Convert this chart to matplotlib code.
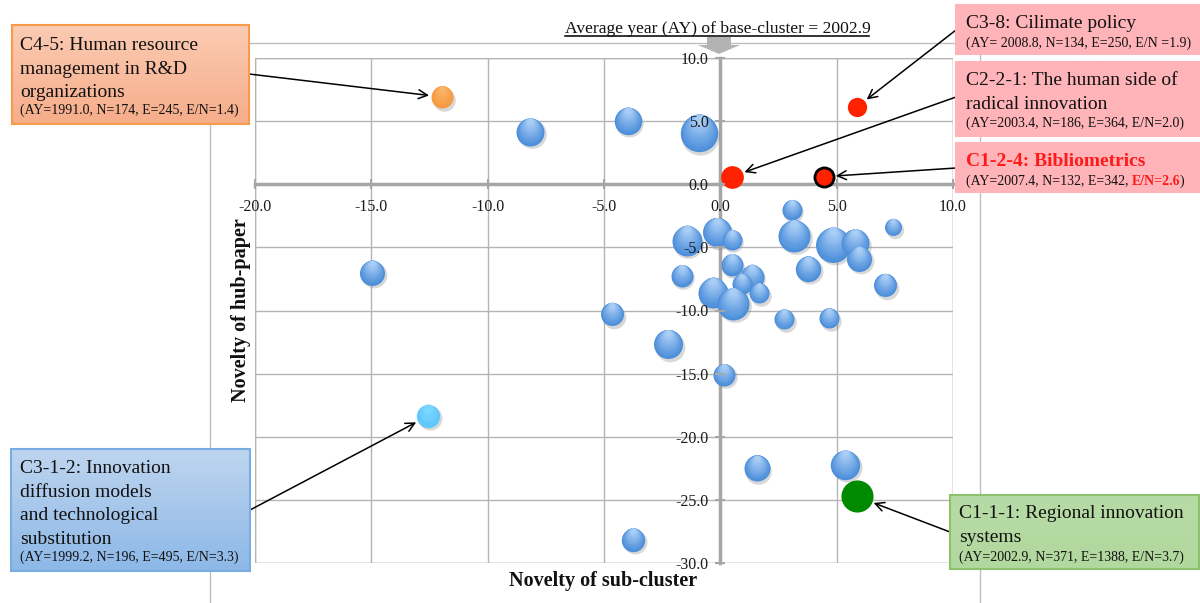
import matplotlib.pyplot as plt
import numpy as np
from matplotlib.patches import Rectangle, Polygon
from matplotlib.lines import Line2D
from matplotlib.colors import LinearSegmentedColormap, to_rgb
from matplotlib.ticker import FormatStrFormatter

plt.rcParams['font.family'] = ['Liberation Serif', 'DejaVu Serif']

W, H = 1200, 603

# ---- data: ordinary sub-clusters (blue bubbles), size = N
blue_x = [-8.18, -3.97, -0.92, 3.07, 7.43, -1.44, -0.13, 0.49, 3.17, 4.86,
          5.79, 5.97, 0.49, -1.66, 3.78, 1.35, 0.92, 1.68, -0.33, 0.56,
          7.08, -4.64, 2.75, 4.68, -2.23, 0.16, -14.96, 1.56, 5.36, -3.74]
blue_y = [4.14, 5.01, 4.05, -2.03, -3.40, -4.47, -3.80, -4.41, -4.09, -4.80,
          -4.67, -5.91, -6.39, -7.26, -6.71, -7.31, -7.89, -8.63, -8.58, -9.48,
          -8.00, -10.29, -10.69, -10.61, -12.67, -15.10, -7.00, -22.49, -22.22, -28.16]
blue_n = [282, 270, 503, 144, 104, 324, 302, 144, 368, 440,
          282, 225, 174, 174, 232, 207, 144, 144, 324, 368,
          190, 190, 144, 144, 302, 174, 225, 243, 311, 197]

# ---- data: highlighted sub-clusters
hl_names = ["C4-5", "C3-8", "C2-2-1", "C1-2-4", "C3-1-2", "C1-1-1"]
hl_x = [-11.96, 5.89, 0.49, 4.46, -12.55, 5.86]
hl_y = [6.91, 6.14, 0.60, 0.60, -18.35, -24.73]
hl_n = [174, 134, 186, 132, 196, 371]
hl_title = [
    ["C4-5: Human resource", "management in R&D", "organizations"],
    ["C3-8: Cilimate policy"],
    ["C2-2-1: The human side of", "radical innovation"],
    ["C1-2-4: Bibliometrics"],
    ["C3-1-2: Innovation", "diffusion models", "and technological", "substitution"],
    ["C1-1-1: Regional innovation", "systems"],
]
hl_info = [
    "(AY=1991.0, N=174, E=245, E/N=1.4)",
    "(AY= 2008.8, N=134, E=250, E/N =1.9)",
    "(AY=2003.4, N=186, E=364, E/N=2.0)",
    "(AY=2007.4, N=132, E=342,",
    "(AY=1999.2, N=196, E=495, E/N=3.3)",
    "(AY=2002.9, N=371, E=1388, E/N=3.7)",
]
bib_en = "E/N=2.6"
base_title = "Average year (AY) of base-cluster = 2002.9"

fig = plt.figure(figsize=(W / 100, H / 100), dpi=100)
fig.patch.set_facecolor('white')

# outer chart-area frame
frame_col = '#bfbfbf'
for xs, ys in [([210, 980], [43, 43]), ([210, 210], [43, 610]), ([980, 980], [43, 610])]:
    fig.add_artist(Line2D([x / W for x in xs], [1 - y / H for y in ys],
                          color=frame_col, lw=1, zorder=-1))

ax = fig.add_axes([255 / W, 1 - 563 / H, 698 / W, 505 / H])
ax.patch.set_alpha(0)
ax.set_xlim(-20, 10)
ax.set_ylim(-30, 10)
xt = np.arange(-20, 10.1, 5)
yt = np.arange(-30, 10.1, 5)
ax.set_xticks(xt)
ax.set_yticks(yt)
ax.xaxis.set_major_formatter(FormatStrFormatter('%.1f'))
ax.yaxis.set_major_formatter(FormatStrFormatter('%.1f'))
# grid drawn by hand so tick labels can sit above the bubbles
for v in xt:
    ax.axvline(v, color='#b4b4b4', lw=1, zorder=0.5)
for v in yt:
    ax.axhline(v, color='#b4b4b4', lw=1, zorder=0.5)
ax.set_axisbelow(False)
for s in ['top', 'right']:
    ax.spines[s].set_visible(False)
for s in ['left', 'bottom']:
    ax.spines[s].set_position(('data', 0))
    ax.spines[s].set_color('#a6a6a6')
    ax.spines[s].set_linewidth(2.5)
    ax.spines[s].set_zorder(1)
ax.add_patch(Rectangle((0, 0), 1, 1, transform=ax.transAxes, fill=False,
                       edgecolor='#b4b4b4', lw=1, zorder=0.6))
ax.tick_params(direction='inout', length=7, width=1.5, color='#a6a6a6',
               labelsize=11.5, labelcolor='#1a1a1a')
ax.tick_params(axis='x', pad=7)
ax.tick_params(axis='y', pad=5)

# pixel scale for bubble shading
p0 = ax.transData.transform((0, 0))
py_unit = ax.transData.transform((0, 1))[1] - p0[1]
px_unit = ax.transData.transform((1, 0))[0] - p0[0]


def bubble(x, y, n, dark, light, shadow=True, layers=12):
    r_px = 0.834 * np.sqrt(n)
    s = 1.44 * n
    if shadow:
        ax.scatter([x + 1.5 / px_unit], [y - 2.5 / py_unit], s=s * 1.05,
                   color='#808080', alpha=0.3, lw=0, zorder=2)
    d = np.array(to_rgb(dark))
    l = np.array(to_rgb(light))
    for i in range(layers):
        f = 1 - 0.85 * i / layers
        col = d + (l - d) * i / (layers - 1)
        dy = (1 - f) * r_px / py_unit
        ax.scatter([x], [y + dy], s=s * f ** 2, color=col, lw=0, zorder=2)


for x, y, n in zip(blue_x, blue_y, blue_n):
    bubble(x, y, n, '#4c8eda', '#a9cef6')

# highlighted bubbles
bubble(hl_x[0], hl_y[0], hl_n[0], '#f59a3e', '#fbb468')
ax.scatter([hl_x[1]], [hl_y[1]], s=1.44 * hl_n[1], color='#ff2200', lw=0, zorder=2)
ax.scatter([hl_x[2]], [hl_y[2]], s=1.44 * hl_n[2], color='#ff2200', lw=0, zorder=2)
ax.scatter([hl_x[3]], [hl_y[3]], s=1.44 * hl_n[3], color='#ff2200',
           edgecolor='black', lw=2, zorder=2)
bubble(hl_x[4], hl_y[4], hl_n[4], '#62c8fb', '#79d6ff', layers=3)
ax.scatter([hl_x[5]], [hl_y[5]], s=1.44 * hl_n[5], color='#008a00', lw=0, zorder=2)

# annotation boxes (figure pixel coords from top-left)
boxes = [
    (12, 25, 249, 124, '#fbcbb3', '#f6ad8a', '#f79a4c'),
    (956, 5, 1199, 54, '#ffb4b9', '#ffb4b9', '#ffb4b9'),
    (956, 62, 1199, 136, '#ffb4b9', '#ffb4b9', '#ffb4b9'),
    (956, 143, 1199, 192, '#ffb4b9', '#ffb4b9', '#ffb4b9'),
    (11, 449, 250, 571, '#bed5ef', '#8db8e7', '#78ade3'),
    (950, 495, 1199, 569, '#b7dba6', '#b1d89e', '#8cc26c'),
]
text_x = [20, 966, 966, 966, 20, 959]
title_base = [50, 28, 85, 166, 473, 518]
info_base = [114, 47, 127, 185, 561, 561]
arrow_from = [(249, 74), (956, 30), (956, 97), (956, 168), (250, 510), (950, 532)]

for (x0, y0, x1, y1, c_top, c_bot, c_edge) in boxes:
    bax = fig.add_axes([x0 / W, 1 - y1 / H, (x1 - x0) / W, (y1 - y0) / H])
    cmap = LinearSegmentedColormap.from_list('g', [c_top, c_bot])
    bax.imshow(np.linspace(0, 1, 64)[:, None], aspect='auto', cmap=cmap,
               extent=[0, 1, 0, 1])
    bax.set_axis_off()
    bax.add_patch(Rectangle((0, 0), 1, 1, transform=bax.transAxes, fill=False,
                            edgecolor=c_edge, lw=1.5, clip_on=False))

pitch = 23.7
bib_info = None
for k in range(len(hl_names)):
    bold = hl_names[k] == "C1-2-4"
    for i, line in enumerate(hl_title[k]):
        fig.text(text_x[k] / W, 1 - (title_base[k] + i * pitch) / H, line,
                 fontsize=14, va='baseline', ha='left',
                 color='#ff1a1a' if bold else '#111111',
                 fontweight='bold' if bold else 'normal', zorder=5)
    t_info = fig.text(text_x[k] / W, 1 - info_base[k] / H, hl_info[k],
                      fontsize=10, va='baseline', ha='left', color='#111111', zorder=5)
    if bold:
        bib_info = (t_info, info_base[k])
    fx, fy = arrow_from[k]
    r_pt = 0.834 * np.sqrt(hl_n[k]) * 0.72
    ax.annotate('', xy=(hl_x[k], hl_y[k]), xycoords='data',
                xytext=(fx, H - fy), textcoords='figure pixels',
                arrowprops=dict(arrowstyle='->', color='black', lw=1.1,
                                shrinkA=0, shrinkB=r_pt + 1.5, mutation_scale=16),
                annotation_clip=False, zorder=6)

# red E/N part of the Bibliometrics info line
fig.canvas.draw()
renderer = fig.canvas.get_renderer()
t_info, yb = bib_info
bb = t_info.get_window_extent(renderer)
t_red = fig.text((bb.x1 + 3.5) / W, 1 - yb / H, bib_en, fontsize=10, va='baseline',
                 ha='left', color='#ff1a1a', fontweight='bold', zorder=5)
bb2 = t_red.get_window_extent(renderer)
fig.text((bb2.x1 - 0.5) / W, 1 - yb / H, ')', fontsize=10, va='baseline',
         ha='left', color='#111111', zorder=5)

# base-cluster title with underline and grey arrow
fig.text(565 / W, 1 - 33 / H, base_title, fontsize=12.6, va='baseline', ha='left',
         color='#111111')
fig.add_artist(Line2D([565 / W, 869 / W], [1 - 35.5 / H] * 2, color='#111111', lw=1.2))
arrow_pts = [(707, 37), (731, 37), (731, 45), (740, 45), (719, 54), (698, 45), (707, 45)]
fig.add_artist(Polygon([(x / W, 1 - y / H) for x, y in arrow_pts], closed=True,
                       transform=fig.transFigure, facecolor='#b3b3b3', edgecolor='none'))

# axis titles
fig.text(603 / W, 1 - 581 / H, 'Novelty of sub-cluster', fontsize=14.5,
         fontweight='bold', ha='center', va='center', color='#111111')
fig.text(241 / W, 1 - 310 / H, 'Novelty of hub-paper', fontsize=14.5,
         fontweight='bold', ha='center', va='center', rotation=90, color='#111111')

fig.savefig('out.png', dpi=100)
